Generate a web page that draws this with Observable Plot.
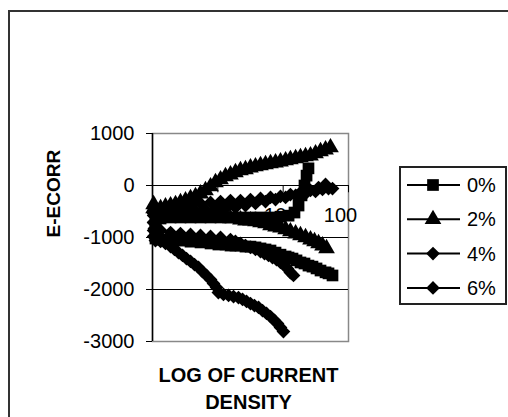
<!DOCTYPE html>
<html>
<head>
<meta charset="utf-8">
<script src="https://cdn.jsdelivr.net/npm/d3@7"></script>
<script src="https://cdn.jsdelivr.net/npm/@observablehq/plot@0.6"></script>
<style>
  html, body { margin: 0; padding: 0; background: #fff; }
  #wrap { position: relative; width: 508px; height: 417px; overflow: hidden; background: #fff; font-family: "Liberation Sans", Arial, sans-serif; }
  #outer { position: absolute; left: 8px; top: 10px; width: 700px; height: 700px; border: 2px solid #333; box-sizing: border-box; pointer-events: none; }
  #chart { position: absolute; left: 0; top: 0; }
  #legend { position: absolute; left: 399px; top: 166px; }
</style>
</head>
<body>
<div id="wrap">
  <div id="outer"></div>
  <div id="chart"></div>
  <div id="legend"></div>
</div>
<script>
// Series names
const seriesNames = ["0%", "2%", "4%", "6%"];
// Axis ticks
const yTicks = [-3000, -2000, -1000, 0, 1000];
const xTicks = [1, 10, 100];
const xTickLabels = ["1", "10", "100"];

// 0% (squares): current density, E-Ecorr
const i0 = [56.9,49.4,44.5,37.3,32.4,28.1,24.4,21.2,18.4,16.0,13.9,12.1,10.9,9.10,7.64,6.40,5.37,4.50,3.77,3.16,2.65,2.22,1.86,1.56,1.31,1.02,0.773,0.543,0.382,0.268,0.189,0.133,0.111,0.111,0.111,0.111,0.133,0.189,0.268,0.382,0.543,0.773,1.10,1.56,2.22,3.16,4.50,6.40,9.10,12.1,14.9,17.2,19.1,21.2,22.8,24.4];
const e0 = [-1730,-1690,-1670,-1635,-1595,-1560,-1540,-1500,-1480,-1440,-1405,-1385,-1365,-1330,-1290,-1250,-1230,-1210,-1190,-1175,-1175,-1155,-1155,-1155,-1135,-1135,-1115,-1095,-1080,-1060,-1060,-1040,-1020,-900,-790,-670,-635,-615,-615,-615,-615,-615,-615,-615,-615,-615,-615,-615,-600,-580,-520,-385,-190,0,190,330];

// 2% (triangles)
const i2 = [46.1,40.0,34.8,30.2,26.2,22.0,18.4,15.5,12.9,10.9,9.10,7.64,6.40,5.37,4.50,3.77,3.16,2.65,2.22,1.56,1.10,0.773,0.543,0.382,0.268,0.189,0.133,0.104,0.104,
            0.133,0.158,0.189,0.225,0.268,0.320,0.382,0.455,0.543,0.647,0.773,0.921,1.10,1.31,1.56,1.86,2.22,2.65,3.16,3.77,4.50,5.37,6.40,7.64,9.10,10.9,12.9,15.5,18.4,22.0,26.2,31.3,37.3,44.5,53.0];
const e2 = [-1210,-1155,-1115,-1075,-1040,-1000,-960,-925,-885,-845,-810,-790,-770,-730,-710,-690,-675,-675,-655,-635,-615,-595,-575,-560,-540,-520,-480,-440,-365,
            -440,-405,-385,-365,-325,-290,-250,-210,-155,-95,-20,60,115,175,210,250,290,310,345,365,385,405,425,440,460,480,500,520,540,560,575,615,655,690,730];

// 4% (diamonds)
const i4 = [14.4,12.9,11.6,10.5,9.10,7.91,6.87,5.97,5.18,4.50,3.77,3.16,2.65,2.22,1.86,1.56,1.10,0.773,0.543,0.382,0.268,0.189,0.133,0.107,0.104,0.104,
            0.124,0.158,0.225,0.320,0.455,0.647,0.921,1.31,1.86,2.65,3.77,5.37,7.64,10.9,15.5,22.0,31.3,40.0,49.4,56.9];
const e4 = [-1730,-1675,-1595,-1540,-1480,-1425,-1385,-1345,-1310,-1270,-1230,-1190,-1155,-1115,-1075,-1040,-1000,-980,-960,-940,-925,-905,-865,-825,-710,-575,
            -560,-540,-520,-520,-500,-480,-460,-440,-425,-385,-345,-310,-270,-230,-190,-155,-115,-75,-60,-60];

// 6% (diamonds)
const i6 = [10.1,9.10,8.19,7.36,6.40,5.56,4.83,4.20,3.64,3.16,2.75,2.39,2.07,1.74,1.46,1.22,1.02,0.955,0.859,0.773,0.671,0.582,0.506,0.440,0.382,0.331,0.288,0.250,0.217,0.189,0.158,0.133,0.111,0.104,0.104,0.104,0.104,
            0.133,0.189,0.268,0.382,0.543,0.773,1.10,1.56,2.22,3.16,4.50,6.40,9.10,12.9,18.4,26.2,34.8,44.5];
const e6 = [-2810,-2730,-2655,-2595,-2520,-2460,-2405,-2345,-2310,-2270,-2230,-2190,-2155,-2135,-2115,-2095,-2060,-1960,-1885,-1810,-1730,-1655,-1575,-1520,-1460,-1405,-1345,-1290,-1230,-1175,-1115,-1075,-1060,-980,-865,-710,-540,
            -480,-440,-405,-385,-345,-325,-310,-290,-290,-270,-250,-230,-210,-175,-135,-95,-40,20];

const symbols = ["square", "triangle", "diamond2", "diamond2"];
const radii = [6.6, 6.2, 6.2, 6.2];

const rows = (is, es, name) => is.map((v, k) => ({i: v, e: es[k], s: name}));
const data = [rows(i0, e0, seriesNames[0]), rows(i2, e2, seriesNames[1]), rows(i4, e4, seriesNames[2]), rows(i6, e6, seriesNames[3])];

const seriesMarks = data.flatMap((d, k) => [
  Plot.line(d, {x: "i", y: "e", stroke: "black", strokeWidth: 2}),
  Plot.dot(d, {x: "i", y: "e", symbol: () => symbols[k], r: radii[k], fill: "black"})
]);

const chart = Plot.plot({
  width: 508,
  height: 417,
  marginLeft: 152,
  marginRight: 160,
  marginTop: 133,
  marginBottom: 76,
  style: {fontFamily: "'Liberation Sans', Arial, sans-serif", fontSize: "20px", background: "transparent", color: "black"},
  x: {type: "log", domain: [0.1, 100], axis: null},
  y: {domain: [-3000, 1000], axis: null},
  symbol: {domain: symbols, range: symbols},
  marks: [
    Plot.frame({stroke: "#888", strokeWidth: 1.5}),
    Plot.ruleY([-2000, -1000, 0], {stroke: "black", strokeWidth: 1.2}),
    Plot.ruleX([0.1], {stroke: "black", strokeWidth: 1.5}),
    Plot.axisY({ticks: yTicks, tickFormat: d => String(d), tickSize: 6, tickPadding: 12, label: null, fontSize: 20, stroke: "black"}),
    Plot.ruleX(xTicks, {x: d => d, y1: () => 0, y2: () => -140, stroke: "black"}),
    Plot.text(xTicks, {x: d => d, y: () => 0, text: (d, k) => xTickLabels[k], dy: 30, dx: -8, fontSize: 20, fill: "black"}),
    Plot.text(["E-ECORR"], {frameAnchor: "left", dx: -99, rotate: -90, fontWeight: "bold", fontSize: 19, fill: "black"}),
    Plot.text(["LOG OF CURRENT\nDENSITY"], {frameAnchor: "bottom", lineAnchor: "middle", dx: -2, dy: 45, lineHeight: 1.38, fontWeight: "bold", fontSize: 20, fill: "black"}),
    ...seriesMarks
  ]
});
document.getElementById("chart").appendChild(chart);

// Legend (Excel style)
const lw = 108, lh = 139;
const leg = d3.select("#legend").append("svg").attr("width", lw).attr("height", lh)
  .style("font-family", "'Liberation Sans', Arial, sans-serif");
leg.append("rect").attr("x", 1).attr("y", 1).attr("width", lw - 2).attr("height", lh - 2)
  .attr("fill", "white").attr("stroke", "#222").attr("stroke-width", 2);
const symMap = {square: d3.symbolSquare, triangle: d3.symbolTriangle, diamond2: d3.symbolDiamond2};
seriesNames.forEach((name, k) => {
  const cy = 19 + k * 34.3;
  leg.append("line").attr("x1", 8).attr("x2", 61).attr("y1", cy).attr("y2", cy).attr("stroke", "black").attr("stroke-width", 2);
  leg.append("path").attr("transform", `translate(34,${cy})`)
    .attr("d", d3.symbol(symMap[symbols[k]], Math.PI * radii[k] * radii[k])()).attr("fill", "black");
  leg.append("text").attr("x", 68).attr("y", cy).attr("dy", "0.35em").attr("font-size", 20).text(name);
});
</script>
</body>
</html>
